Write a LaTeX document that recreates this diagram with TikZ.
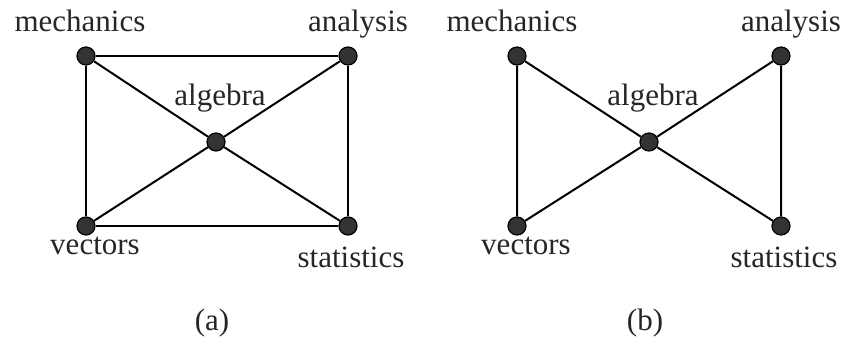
\documentclass[tikz,border=0pt]{standalone}
\usepackage{fontspec}
\setmainfont{Liberation Serif}
\usepackage{tikz}
\usetikzlibrary{positioning}

\begin{document}
\begin{tikzpicture}[
  x=0.5pt, y=-0.5pt,
  vertex/.style={circle, draw, line width=0.6pt, fill=black!80, minimum size=9pt, inner sep=0pt},
  vlabel/.style={anchor=base, inner sep=0pt, font=\fontsize{15.5}{18}\selectfont, text=black!85},
  link/.style={line width=1pt},
]
\useasboundingbox (0,0) rectangle (847,347);

% Grafo (a)
\node[vertex] (mechA) at (86, 56) {};
\node[vertex] (anaA) at (348, 56) {};
\node[vertex] (algA) at (216, 142) {};
\node[vertex] (vecA) at (86, 226) {};
\node[vertex] (statA) at (348, 226) {};
\node[vlabel] (mechA-l) at (80, 32) {mechanics};
\node[vlabel] (anaA-l) at (358, 32) {analysis};
\node[vlabel] (algA-l) at (220, 106) {algebra};
\node[vlabel] (vecA-l) at (95, 255) {vectors};
\node[vlabel] (statA-l) at (351, 268) {statistics};
\draw[link] (mechA) -- (anaA) -- (statA) -- (vecA) -- (mechA);
\draw[link] (mechA) -- (algA) -- (statA);
\draw[link] (vecA) -- (algA) -- (anaA);
\node[vlabel] (capA) at (212, 331) {(a)};

% Grafo (b)
\node[vertex] (mechB) at (517, 56) {};
\node[vertex] (anaB) at (781, 56) {};
\node[vertex] (algB) at (649, 142) {};
\node[vertex] (vecB) at (517, 226) {};
\node[vertex] (statB) at (781, 226) {};
\node[vlabel] (mechB-l) at (512, 32) {mechanics};
\node[vlabel] (anaB-l) at (791, 32) {analysis};
\node[vlabel] (algB-l) at (653, 106) {algebra};
\node[vlabel] (vecB-l) at (526, 255) {vectors};
\node[vlabel] (statB-l) at (784, 268) {statistics};
\draw[link] (mechB) -- (vecB) -- (algB) -- (mechB);
\draw[link] (anaB) -- (statB) -- (algB) -- (anaB);
\node[vlabel] (capB) at (645, 331) {(b)};

\end{tikzpicture}
\end{document}
